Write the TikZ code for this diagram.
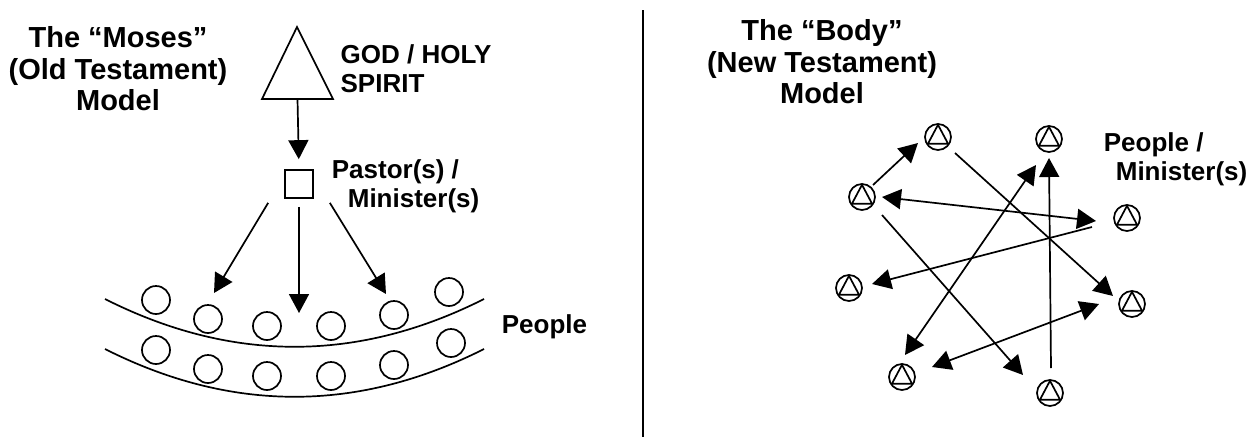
\documentclass[tikz,border=0pt]{standalone}
\usepackage{fontspec}
\setmainfont{Liberation Sans}
\usetikzlibrary{arrows.meta,calc}
\begin{document}
\begin{tikzpicture}[x=1pt,y=-1pt,line width=1.7pt,
  tip/.tip={Triangle[length=19pt,width=20pt]},
  arr/.style={-tip},
  darr/.style={tip-tip},
  title/.style={font=\fontsize{29}{31.5}\selectfont\bfseries,align=center,anchor=north,inner sep=0pt},
  lab/.style={font=\fontsize{26}{29}\selectfont\bfseries,align=left,anchor=north west,inner sep=0pt},
  person/.style={draw,circle,minimum size=28pt,inner sep=0pt},
  member/.style={draw,circle,minimum size=26pt,inner sep=0pt}]
\useasboundingbox (0,0) rectangle (1259,437);
% divider
\coordinate (dtop) at (643,10);
\coordinate (dbot) at (643,437);
\draw (dtop) -- (dbot);
% ---------- left: Moses model ----------
\node[title] (t1) at (118,26) {The “Moses”\\(Old Testament)\\Model};
\draw (297,27) -- (333,99) -- (262,99) -- cycle;
\coordinate (godbase) at (297.5,99);
\node[lab,anchor=north] (godlab) at (416,44) {GOD / HOLY\\SPIRIT};
\node[draw,minimum size=28pt,inner sep=0pt] (pastor) at (299,184) {};
\node[lab] (pastlab) at (331,159) {Pastor(s) /\\\hspace*{16pt}Minister(s)};
\draw[arr,shorten >=10pt] (godbase) -- (pastor.north);
% people band
\draw (105,299) .. controls (231.3,362.7) and (357.7,362.7) .. (484,299);
\draw (105,349) .. controls (231.3,412.7) and (357.7,412.7) .. (484,349);
\foreach \n/\x/\y in {p1/156/300,p2/208/319,p3/267/326,p4/331/326,p5/394/315,p6/449/292,
                      q1/156/350,q2/208/369,q3/267/376,q4/331/376,q5/394/365,q6/451/343}
  \node[person] (\n) at (\x,\y) {};
\node[lab] (peoplelab) at (501,314) {People};
\coordinate (pl) at (214,293);
\coordinate (pm) at (299,313);
\coordinate (pr) at (386,294);
\draw[arr] ($(pastor.south west)+(-16,4)$) -- (pl);
\draw[arr] ($(pastor.south)+(0,8)$) -- (pm);
\draw[arr] ($(pastor.south east)+(16,4)$) -- (pr);
% ---------- right: Body model ----------
\node[title] (t2) at (822,19) {The “Body”\\(New Testament)\\Model};
\foreach \n/\x/\y in {A/938/137,B/1049/139,C/862/197,D/1127/218,E/849/288,F/1132/304,G/902/377,H/1050/393}{
  \node[member] (\n) at (\x,\y) {};
  \draw ($(\n.center)+(90:12.2pt)$) -- ($(\n.center)+(214:12.2pt)$) -- ($(\n.center)+(326:12.2pt)$) -- cycle;
}
\node[lab] (pmlab) at (1103,132) {People /\\\hspace*{12pt}Minister(s)};
\draw[arr]  ($(C)+(11,-12)$) -- ($(A)+(-20,6)$);
\draw[darr] ($(C)+(20,0)$)   -- ($(D)+(-31,3)$);
\draw[arr]  ($(D)+(-35,9)$)  -- ($(E)+(23,-4)$);
\draw[arr]  ($(A)+(17,16)$)  -- ($(F)+(-19,-8)$);
\draw[arr]  ($(C)+(20,18)$)  -- ($(H)+(-27,-18)$);
\draw[darr] ($(G)+(3,-22)$)  -- ($(B)+(-13,26)$);
\draw[arr]  ($(H)+(1,-25)$)  -- ($(B)+(0,19)$);
\draw[darr] ($(G)+(30,-10)$) -- ($(F)+(-33,0)$);
\end{tikzpicture}
\end{document}
